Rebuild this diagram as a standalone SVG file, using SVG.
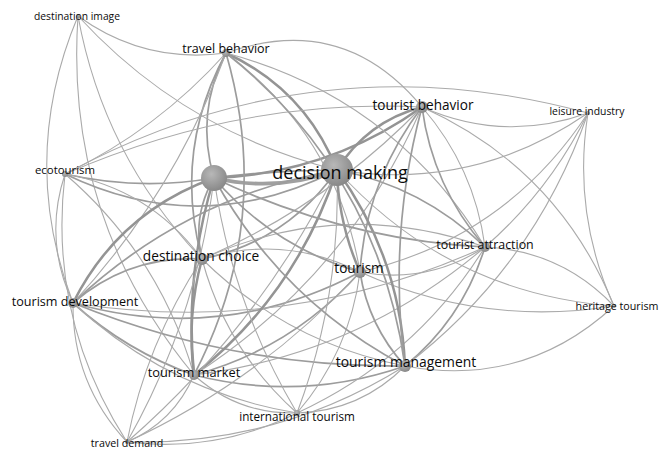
<svg xmlns="http://www.w3.org/2000/svg" width="662" height="460" viewBox="0 0 662 460">
<style>
.e path{fill:none;stroke-linecap:round}
.w1{stroke:#aaaaaa;stroke-width:1.1}
.w2{stroke:#9c9c9c;stroke-width:1.7}
.w3{stroke:#949494;stroke-width:2.5}
.w4{stroke:#a0a0a0;stroke-width:3.8}
.n circle{fill:url(#g);stroke:none}
.n text{font-family:"Open Sans","Noto Sans","DejaVu Sans",sans-serif;fill:#0a0a0a;text-anchor:middle}
</style>
<defs>
<radialGradient id="g" cx="0.4" cy="0.35" r="0.7">
<stop offset="0" stop-color="#b8b8b8"/>
<stop offset="1" stop-color="#858585"/>
</radialGradient>
</defs>
<rect width="662" height="460" fill="#fff"/>
<g id="connectors" class="e">
<path class="w4" d="M214 178 q62.7 14.5 123 -8"/>
<path class="w2" d="M337 170 q-61.5 0 -123 8"/>
<path class="w3" d="M214 178 q114.7 -4.3 208 -71"/>
<path class="w3" d="M422 107 q-55.1 14.5 -85 63"/>
<path class="w3" d="M337 170 q-32.1 -80.7 -111 -117"/>
<path class="w2" d="M226 53 q-31 60.1 -12 125"/>
<path class="w2" d="M226 53 q-53.2 98.2 -24 206"/>
<path class="w2" d="M194 375 q80.4 -154.6 32 -322"/>
<path class="w1" d="M360 272 q-23.2 -136.3 -134 -219"/>
<path class="w2" d="M405 366 q-26.9 -192.3 -179 -313"/>
<path class="w1" d="M485 247 q-90.7 -148.8 -259 -194"/>
<path class="w1" d="M422 107 q-79.1 -95.6 -196 -54"/>
<path class="w1" d="M78 16 q66.6 48.1 148 37"/>
<path class="w1" d="M78 16 q-59.9 142.5 -5 287"/>
<path class="w1" d="M78 16 q25.6 140.1 124 243"/>
<path class="w1" d="M78 16 q-13.8 202.7 116 359"/>
<path class="w1" d="M78 16 q106.4 115.9 259 154"/>
<path class="w2" d="M65 174 q74.1 16.9 149 4"/>
<path class="w2" d="M65 174 q136.6 66 272 -4"/>
<path class="w1" d="M422 107 q-182 -9 -357 67"/>
<path class="w1" d="M588 113 q-273.7 -74.1 -523 61"/>
<path class="w1" d="M65 174 q-21.8 66.1 8 129"/>
<path class="w1" d="M65 174 q-17.2 145.2 62 268"/>
<path class="w1" d="M194 375 q-34.35 -119.85 -129 -201"/>
<path class="w1" d="M202 259 q-51.5 -69.9 -137 -85"/>
<path class="w1" d="M73 303 q101.5 -109.7 153 -250"/>
<path class="w1" d="M65 174 q92.6 -44.4 161 -121"/>
<path class="w3" d="M214 178 q-95.5 34.3 -141 125"/>
<path class="w2" d="M337 170 q-152 26.9 -264 133"/>
<path class="w2" d="M202 259 q-73.3 -3.8 -129 44"/>
<path class="w2" d="M73 303 q53.3 48.1 121 72"/>
<path class="w2" d="M73 303 q159.7 64.7 332 63"/>
<path class="w2" d="M73 303 q149.7 41.9 287 -31"/>
<path class="w1" d="M73 303 q214.4 33.8 412 -56"/>
<path class="w1" d="M73 303 q-0.8 80.3 54 139"/>
<path class="w1" d="M73 303 q95.5 88.6 224 110"/>
<path class="w2" d="M214 178 q-22.2 38.1 -12 81"/>
<path class="w2" d="M202 259 q85.3 -17.5 135 -89"/>
<path class="w3" d="M202 259 q-15.6 57.2 -8 116"/>
<path class="w1" d="M360 272 q-76.4 -38.1 -158 -13"/>
<path class="w1" d="M202 259 q85.5 84 203 107"/>
<path class="w1" d="M485 247 q-143.9 -50.6 -283 12"/>
<path class="w1" d="M202 259 q125.2 -54 220 -152"/>
<path class="w1" d="M202 259 q24.4 91.3 95 154"/>
<path class="w1" d="M202 259 q-55.8 84 -75 183"/>
<path class="w3" d="M214 178 q-29.7 96.5 -20 197"/>
<path class="w3" d="M194 375 q102.3 -81 143 -205"/>
<path class="w2" d="M194 375 q106.9 27.2 211 -9"/>
<path class="w2" d="M194 375 q98.5 -26.6 166 -103"/>
<path class="w1" d="M194 375 q164.7 -20.4 291 -128"/>
<path class="w1" d="M194 375 q43.9 39.6 103 38"/>
<path class="w1" d="M127 442 q46.9 -20.1 67 -67"/>
<path class="w1" d="M194 375 q154.2 -99.8 228 -268"/>
<path class="w1" d="M297 413 q63.4 -1.9 108 -47"/>
<path class="w1" d="M297 413 q52.7 -61 63 -141"/>
<path class="w1" d="M297 413 q44.3 -117.5 40 -243"/>
<path class="w1" d="M214 178 q18 125.8 83 235"/>
<path class="w1" d="M297 413 q118.9 -54.8 188 -166"/>
<path class="w1" d="M127 442 q89.4 11 170 -29"/>
<path class="w1" d="M127 442 q150.4 3.7 278 -76"/>
<path class="w1" d="M127 442 q133.5 -61.7 233 -170"/>
<path class="w1" d="M127 442 q69.9 -123.3 87 -264"/>
<path class="w1" d="M127 442 q132.2 -115 210 -272"/>
<path class="w3" d="M337 170 q1.3 53.3 23 102"/>
<path class="w2" d="M214 178 q58.9 68.9 146 94"/>
<path class="w2" d="M422 107 q-55.8 73.2 -62 165"/>
<path class="w2" d="M360 272 q8.4 53.8 45 94"/>
<path class="w1" d="M360 272 q67.5 12.5 125 -25"/>
<path class="w1" d="M360 272 q145.8 -33.9 228 -159"/>
<path class="w1" d="M360 272 q121.9 55.1 254 34"/>
<path class="w3" d="M405 366 q-4.6 -108.2 -68 -196"/>
<path class="w2" d="M214 178 q67.3 122.7 191 188"/>
<path class="w2" d="M422 107 q-34.4 127.8 -17 259"/>
<path class="w2" d="M405 366 q57.9 -47.5 80 -119"/>
<path class="w1" d="M405 366 q119.5 22.3 209 -60"/>
<path class="w1" d="M405 366 q129.5 -99 183 -253"/>
<path class="w2" d="M422 107 q10.5 79.5 63 140"/>
<path class="w1" d="M485 247 q-10.5 -79.5 -63 -140"/>
<path class="w2" d="M485 247 q-62.5 -60.7 -148 -77"/>
<path class="w2" d="M214 178 q128.6 61.6 271 69"/>
<path class="w1" d="M614 306 q-52.7 -55.3 -129 -59"/>
<path class="w1" d="M485 247 q64.9 -56.7 103 -134"/>
<path class="w1" d="M614 306 q-56.2 -137.9 -192 -199"/>
<path class="w1" d="M337 170 q111.3 123.4 277 136"/>
<path class="w1" d="M588 113 q-16 100.4 26 193"/>
<path class="w1" d="M337 170 q136.9 21.7 251 -57"/>
<path class="w1" d="M422 107 q81.8 36.2 166 6"/>
</g>
<g id="n-destination-image" class="n"><circle cx="78" cy="16" r="2"/><text x="77" y="19.5" font-size="10.3">destination image</text></g>
<g id="n-travel-behavior" class="n"><circle cx="226" cy="53" r="4"/><text x="226" y="52.5" font-size="12.5">travel behavior</text></g>
<g id="n-unlabeled" class="n"><circle cx="214" cy="178" r="13"/></g>
<g id="n-ecotourism" class="n"><circle cx="65" cy="174" r="3"/><text x="65" y="174" font-size="11.4">ecotourism</text></g>
<g id="n-decision-making" class="n"><circle cx="337" cy="170" r="16"/><text x="340" y="178.5" font-size="18">decision making</text></g>
<g id="n-tourist-behavior" class="n"><circle cx="422" cy="107" r="6"/><text x="423" y="110" font-size="13.6">tourist behavior</text></g>
<g id="n-leisure-industry" class="n"><circle cx="588" cy="113" r="2"/><text x="587" y="115" font-size="10.4">leisure industry</text></g>
<g id="n-destination-choice" class="n"><circle cx="202" cy="259" r="6"/><text x="201" y="261" font-size="13.7">destination choice</text></g>
<g id="n-tourism-development" class="n"><circle cx="73" cy="303" r="5"/><text x="75" y="306" font-size="12.6">tourism development</text></g>
<g id="n-tourism-market" class="n"><circle cx="194" cy="375" r="5"/><text x="194" y="376.5" font-size="12.8">tourism market</text></g>
<g id="n-international-tourism" class="n"><circle cx="297" cy="413" r="3"/><text x="297" y="420.5" font-size="11.7">international tourism</text></g>
<g id="n-travel-demand" class="n"><circle cx="127" cy="442" r="2"/><text x="127" y="447" font-size="10.7">travel demand</text></g>
<g id="n-tourist-attraction" class="n"><circle cx="485" cy="247" r="5"/><text x="485" y="248.5" font-size="12.4">tourist attraction</text></g>
<g id="n-tourism" class="n"><circle cx="360" cy="272" r="6"/><text x="359" y="273" font-size="13.6">tourism</text></g>
<g id="n-heritage-tourism" class="n"><circle cx="614" cy="306" r="2"/><text x="617" y="310" font-size="10.7">heritage tourism</text></g>
<g id="n-tourism-management" class="n"><circle cx="405" cy="366" r="6"/><text x="406" y="367" font-size="13.9">tourism management</text></g>
</svg>
